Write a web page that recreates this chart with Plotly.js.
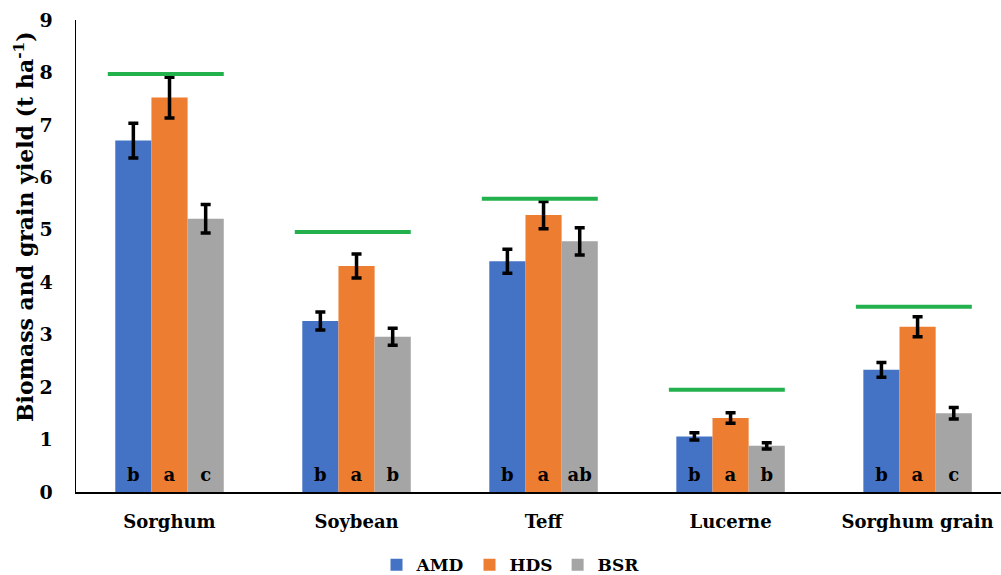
<!DOCTYPE html>
<html>
<head>
<meta charset="utf-8">
<script src="https://cdn.plot.ly/plotly-3.0.1.min.js"></script>
<style>html,body{margin:0;padding:0;background:#fff;}#chart{width:1001px;height:575px;}</style>
</head>
<body>
<div id="chart"></div>
<script>
var categories = ["Sorghum", "Soybean", "Teff", "Lucerne", "Sorghum grain"];
var seriesNames = ["AMD", "HDS", "BSR"];
var amd = [6.70, 3.26, 4.40, 1.06, 2.33];
var hds = [7.52, 4.31, 5.28, 1.41, 3.15];
var bsr = [5.21, 2.96, 4.78, 0.88, 1.50];
var amdErr = [0.33, 0.17, 0.23, 0.07, 0.14];
var hdsErr = [0.39, 0.23, 0.26, 0.10, 0.19];
var bsrErr = [0.27, 0.16, 0.26, 0.06, 0.11];
var amdLetters = ["b", "b", "b", "b", "b"];
var hdsLetters = ["a", "a", "a", "a", "a"];
var bsrLetters = ["c", "b", "ab", "b", "c"];
var greenLine = [7.97, 4.96, 5.59, 1.95, 3.53];
var yTitle = "Biomass and grain yield (t ha<sup>-1</sup>)";

var colors = ["#4472C4", "#ED7D31", "#A5A5A5"];
var FONT = "DejaVu Serif";
var xs = categories.map(function (c, i) { return i; });
var values = [amd, hds, bsr];
var errs = [amdErr, hdsErr, bsrErr];
var letters = [amdLetters, hdsLetters, bsrLetters];

var traces = [];
for (var s = 0; s < 3; s++) {
  traces.push({
    type: "bar", name: seriesNames[s], x: xs, y: values[s],
    offsetgroup: "g" + s,
    marker: { color: colors[s] },
    error_y: { type: "data", array: errs[s], visible: true, color: "#000", thickness: 3.5, width: 5 },
    hoverinfo: "skip"
  });
}
for (var s2 = 0; s2 < 3; s2++) {
  traces.push({
    type: "bar", x: xs, y: xs.map(function () { return 0.08; }),
    offsetgroup: "g" + s2, showlegend: false,
    marker: { color: "rgba(0,0,0,0)" },
    text: letters[s2], textposition: "outside", cliponaxis: false,
    textfont: { family: FONT, size: 18, color: "#000", weight: "bold" },
    hoverinfo: "skip"
  });
}
var gx = [], gy = [];
greenLine.forEach(function (v, i) {
  gx.push(i - 0.33, i + 0.29, null);
  gy.push(v, v, null);
});
traces.push({
  type: "scatter", mode: "lines", x: gx, y: gy, showlegend: false,
  line: { color: "#22B14C", width: 4 }, hoverinfo: "skip"
});

var layout = {
  width: 1001, height: 575,
  margin: { l: 76, r: 0, t: 20, b: 83 },
  paper_bgcolor: "#fff", plot_bgcolor: "#fff",
  barmode: "group", bargap: 0.42, bargroupgap: 0,
  font: { family: FONT, color: "#000", size: 17, weight: "bold" },
  xaxis: {
    range: [-0.5, 4.446], tickvals: xs, ticktext: categories,
    showgrid: false, zeroline: false, showline: true, linecolor: "#000", linewidth: 2,
    ticks: "", tickfont: { family: FONT, size: 18, weight: "bold" }, ticklabelstandoff: 12
  },
  yaxis: {
    range: [0, 9], dtick: 1, showgrid: false, zeroline: false,
    showline: true, linecolor: "#000", linewidth: 1.5, ticks: "",
    tickfont: { family: FONT, size: 19, weight: "bold" }, ticklabelstandoff: 18
  },
  annotations: [{
    text: yTitle, xref: "paper", yref: "paper",
    x: -52 / 925, y: (492 - 227) / 472, xanchor: "center", yanchor: "middle",
    textangle: -90, showarrow: false,
    font: { family: FONT, size: 22, weight: "bold", color: "#000" }
  }],
  legend: {
    orientation: "h", x: 0.51, xref: "container", xanchor: "center",
    y: 0.017, yref: "container", yanchor: "middle",
    font: { family: FONT, size: 17, weight: "bold" }, traceorder: "normal"
  },
  showlegend: true
};
Plotly.newPlot("chart", traces, layout, { displayModeBar: false, staticPlot: true });
</script>
</body>
</html>
